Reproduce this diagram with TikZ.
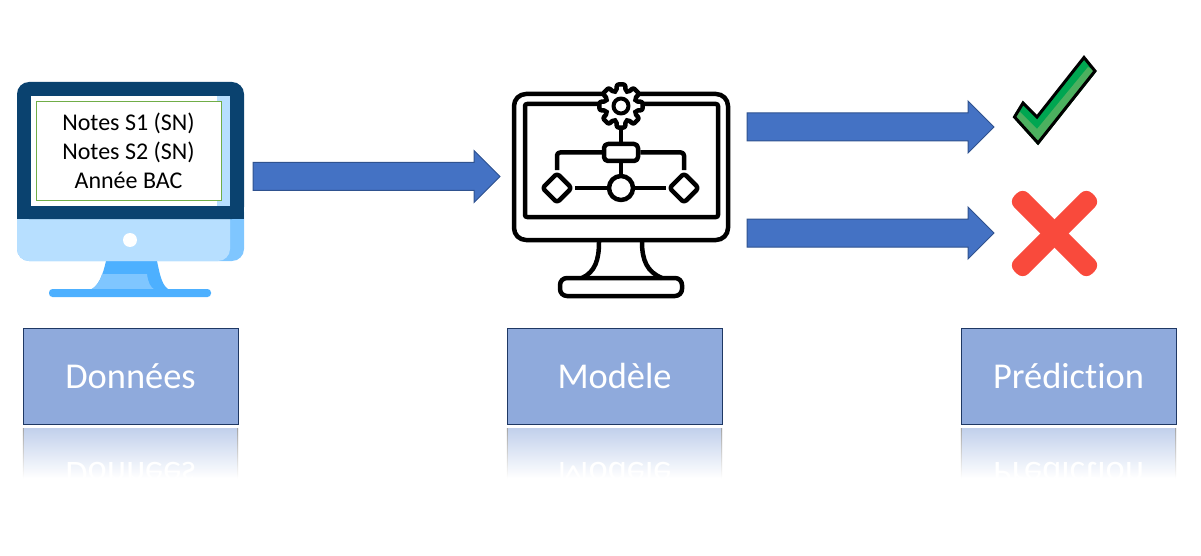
\documentclass[tikz,border=0pt]{standalone}
\usepackage{fontspec}
\setmainfont{Carlito}[Ligatures=CommonOff]
\usetikzlibrary{shapes.arrows,shapes.geometric}
\definecolor{arrowblue}{HTML}{4472C4}
\definecolor{arrowedge}{HTML}{2F528F}
\definecolor{boxblue}{HTML}{8FAADC}
\definecolor{boxedge}{HTML}{1F3864}
\definecolor{pcdark}{HTML}{0A426F}
\definecolor{pclight}{HTML}{B7DFFF}
\definecolor{pcside}{HTML}{7FC6FF}
\definecolor{pcstand}{HTML}{4DB0FF}
\definecolor{okdark}{HTML}{00A651}
\definecolor{oklight}{HTML}{4CB05F}
\definecolor{nored}{HTML}{F94A3C}
\definecolor{notesgreen}{HTML}{70AD47}
\tikzset{
  blockarrow/.style={single arrow, draw=arrowedge, fill=arrowblue, line width=1pt, minimum height=247pt, minimum width=51pt, single arrow head extend=12pt, single arrow head indent=0pt, inner xsep=0pt, inner ysep=13.5pt, anchor=tail},
  stagebox/.style={draw=boxedge, fill=boxblue, line width=1pt, minimum width=215pt, minimum height=96pt, text=white, font=\fontsize{36.4}{40}\selectfont},
  mirrorbox/.style={minimum width=215pt, minimum height=50pt, top color=boxblue!55!white, bottom color=white, anchor=north},
  mirrortext/.style={yscale=-1, text=white, font=\fontsize{36.4}{40}\selectfont},
  iconline/.style={draw=black, line width=4.5pt, line join=round},
  crossarm/.style={fill=nored, minimum width=110pt, minimum height=20pt, rounded corners=8pt, inner sep=0pt},
}
\begin{document}
\begin{tikzpicture}[x=1pt, y=-1pt]
  \useasboundingbox (0,0) rectangle (1201,556);

  % data screen
  \fill[pcstand] (106,261) -- (157,261) .. controls (160,275) and (162,287) .. (170,290) -- (90,290) .. controls (98,287) and (103,275) .. (106,261) -- cycle;
  \fill[pcside] (102,274) -- (147,274) .. controls (148,282) and (150,287) .. (155,290) -- (90,290) .. controls (96,287) and (100,282) .. (102,274) -- cycle;
  \fill[pcstand, rounded corners=3.5pt] (49,289) rectangle (211,297);
  \fill[pcside, rounded corners=12pt] (17,200) rectangle (244,261);
  \fill[pclight, rounded corners=12pt] (17,200) -- (230,200) -- (230,261) -- (17,261) -- cycle;
  \fill[pcdark, rounded corners=12pt] (17,219) -- (17,82) -- (244,82) -- (244,219) -- cycle;
  \fill[pcdark] (17,205) rectangle (244,219);
  \fill[pclight] (31,96) rectangle (230,206);
  \fill[white] (31,96) rectangle (217,206);
  \fill[white] (130,240) circle (7);
  \node[draw=notesgreen, fill=white, line width=0.8pt, minimum width=185pt, minimum height=99pt, align=center, inner sep=0pt, font=\fontsize{24}{29}\selectfont] (notes) at (128.5,150.5) {Notes S1 (SN)\\Notes S2 (SN)\\Année BAC};

  % model screen
  \draw[iconline, rounded corners=12pt] (514,94) rectangle (728,240);
  \draw[iconline, rounded corners=2pt] (525,104) rectangle (718,217);
  \draw[iconline] (599,242) .. controls (599,260) and (595,272) .. (582,278);
  \draw[iconline] (642,242) .. controls (642,260) and (647,272) .. (662,278);
  \draw[iconline, rounded corners=7pt] (560,278) rectangle (682,296);
  \draw[iconline, fill=white, rounded corners=2pt, shift={(621,106)}] (-17:15.5) foreach \a in {0,45,...,315} { -- (\a-11:22) -- (\a+11:22) -- (\a+17:15.5) -- (\a+28:15.5) } -- cycle;
  \draw[iconline, line width=4pt] (621,106) circle (7.5);
  \coordinate (gearfoot) at (621,128);
  \node[iconline, fill=white, rounded corners=4pt, minimum width=34pt, minimum height=17pt, inner sep=0pt] (flowtop) at (621,152.5) {};
  \node[iconline, fill=white, circle, minimum size=24pt, inner sep=0pt] (flowmid) at (621,188) {};
  \node[iconline, fill=white, diamond, rounded corners=3pt, minimum size=31pt, inner sep=0pt] (flowleft) at (557,188) {};
  \node[iconline, fill=white, diamond, rounded corners=3pt, minimum size=31pt, inner sep=0pt] (flowright) at (684,188) {};
  \draw[iconline] (gearfoot) -- (flowtop);
  \draw[iconline] (flowtop) -- (flowmid);
  \draw[iconline] (flowleft) -- (flowmid);
  \draw[iconline] (flowmid) -- (flowright);
  \draw[iconline, rounded corners=3pt] (flowtop.west) -| (flowleft.north);
  \draw[iconline, rounded corners=3pt] (flowtop.east) -| (flowright.north);

  % block arrows
  \node[blockarrow] (arrowdata) at (252.5,176.5) {};
  \node[blockarrow] (arrowyes) at (746.5,127) {};
  \node[blockarrow] (arrowno) at (746.5,233) {};

  % check mark
  \fill[okdark] (1084,56) -- (1096,72) -- (1038,145) -- (1013,117) -- (1023,101) -- (1037,117) -- cycle;
  \fill[oklight] (1088,67) -- (1096,72) -- (1038,145) -- (1013,117) -- (1019,111) -- (1037,129) -- cycle;
  \draw[black, line width=3pt, line join=miter] (1084,57.5) -- (1095,71) -- (1038,143) -- (1014.5,117) -- (1023,103) -- (1037,117) -- cycle;

  % cross
  \node[crossarm, rotate=45] (crossa) at (1054.5,233.5) {};
  \node[crossarm, rotate=-45] (crossb) at (1054.5,233.5) {};

  % captions and their reflections
  \foreach \nm/\cx/\lab in {donnees/130.5/Données, modele/614.5/Modèle, prediction/1068.5/Prédiction}{
    \node[mirrorbox] (\nm mirror) at (\cx,428) {};
    \shade[top color=gray!70, bottom color=white] (\nm mirror.north west) rectangle ([xshift=1pt]\nm mirror.south west);
    \shade[top color=gray!70, bottom color=white] ([xshift=-1pt]\nm mirror.north east) rectangle (\nm mirror.south east);
    \node[stagebox] (\nm) at (\cx,376) {\lab};
    \node[mirrortext] (\nm text) at (\cx,475) {\lab};
  }
\end{tikzpicture}
\end{document}
